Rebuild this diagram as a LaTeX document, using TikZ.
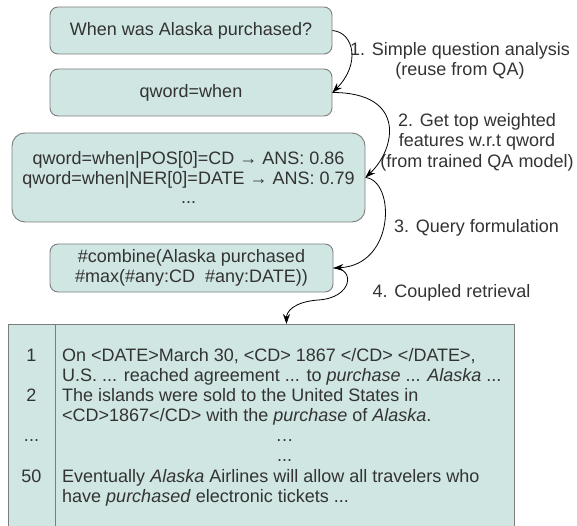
\documentclass[tikz,border=0pt]{standalone}
\usepackage{fontspec}
\setmainfont{Liberation Sans}
\usetikzlibrary{arrows.meta}
\definecolor{boxfill}{RGB}{207,230,227}
\definecolor{boxline}{RGB}{125,125,125}
\definecolor{txt}{RGB}{51,51,51}
\tikzset{
  stepbox/.style={draw=boxline, fill=boxfill, line width=0.9pt, rounded corners=8pt,
    inner sep=0pt, text=txt, align=center, font=\fontsize{18}{19.5}\selectfont},
  tablebox/.style={draw=boxline, fill=boxfill, line width=0.9pt, inner sep=0pt},
  flow/.style={draw=black, line width=0.8pt, -{Stealth[length=10pt,width=7pt]}},
  lbl/.style={text=txt, align=center, font=\fontsize{18}{20.5}\selectfont, inner sep=0pt},
  tline/.style={anchor=base west, text=txt, font=\fontsize{18}{20}\selectfont, inner sep=0pt},
  tnum/.style={anchor=base, text=txt, font=\fontsize{18}{20}\selectfont, inner sep=0pt},
}
\begin{document}
\begin{tikzpicture}[x=1pt,y=-1pt]
\useasboundingbox (0,0) rectangle (577,526);
% boxes
\node[stepbox, minimum width=282pt, minimum height=47pt] (b1) at (191,30.5) {When was Alaska purchased?};
\node[stepbox, minimum width=282pt, minimum height=47pt] (b2) at (191,92.5) {qword=when};
\node[stepbox, rounded corners=13pt, minimum width=353pt, minimum height=89pt] (b3) at (188.5,177.5)
  {qword=when|POS[0]=CD → ANS: 0.86\\qword=when|NER[0]=DATE → ANS: 0.79\\...};
\node[stepbox, minimum width=283pt, minimum height=48pt] (b4) at (191.5,268)
  {\#combine(Alaska purchased\\\#max(\#any:CD\ \ \#any:DATE))\hspace{10pt}};
% table
\begin{scope}
\clip (0,0) rectangle (577,526.5);
\node[tablebox, anchor=north west, minimum width=506pt, minimum height=220pt] (tbl) at (8,324) {};
\draw[boxline, line width=0.9pt] (55,324) -- (55,545);
\end{scope}
% table text
\node[tnum] (n1) at (31.5,361) {1};
\node[tnum] (n2) at (31.5,401) {2};
\node[tnum] (n3) at (31.5,441) {...};
\node[tnum] (n4) at (31.5,482) {50};
\node[tline] (t1) at (62,361) {On <DATE>March 30, <CD> 1867 </CD> </DATE>,};
\node[tline] (t2) at (62,381) {U.S. ... reached agreement ... to \textit{purchase} ... \textit{Alaska} ...};
\node[tline] (t3) at (62,401) {The islands were sold to the United States in};
\node[tline] (t4) at (62,421) {<CD>1867</CD> with the \textit{purchase} of \textit{Alaska}.};
\node[tnum] (t5) at (284.5,441) {…};
\node[tnum] (t6) at (284.5,461) {...};
\node[tline] (t7) at (62,482) {Eventually \textit{Alaska} Airlines will allow all travelers who};
\node[tline] (t8) at (62,502) {have \textit{purchased} electronic tickets ...};
% labels
\node[lbl] (l1) at (460,61) {1. Simple question analysis\\(reuse from QA)};
\node[lbl] (l2) at (477,142) {2. Get top weighted\\features w.r.t qword\\(from trained QA model)};
\node[lbl] (l3) at (476.5,228) {3. Query formulation};
\node[lbl] (l4) at (451.5,293) {4. Coupled retrieval};
% connectors
\draw[flow] (b1.east) .. controls +(22,2) and +(28,-28) .. (b2.east);
\draw[flow] (b2.east) .. controls +(75,0) and +(30,-28) .. (b3.east);
\draw[flow] (b3.east) .. controls +(30,3) and +(62,-3) .. (b4.east);
\coordinate (tin) at ([xshift=25pt]tbl.north);
\draw[flow] (b4.east) .. controls +(22,0) and +(35,-2) .. (318,300)
  .. controls +(-25,2) and +(0,-12) .. (tin);
\end{tikzpicture}
\end{document}
